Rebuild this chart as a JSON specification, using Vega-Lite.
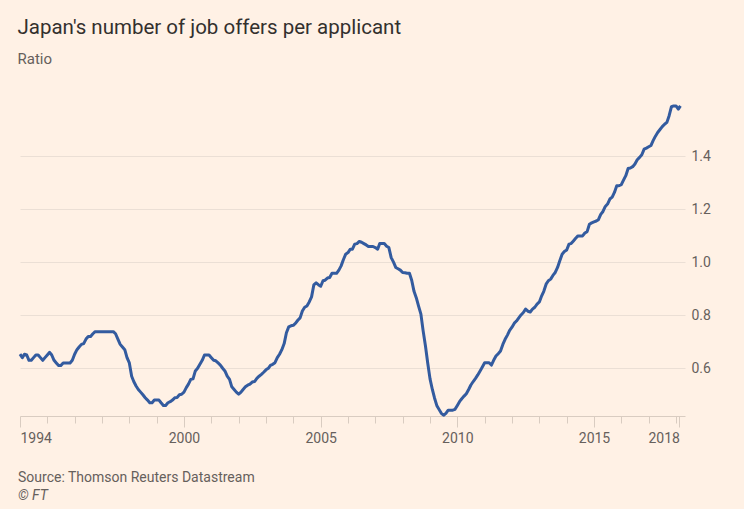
{
 "$schema": "https://vega.github.io/schema/vega-lite/v6.json",
 "background": "#FFF1E5",
 "padding": {"left": 17, "top": 17, "right": 40, "bottom": 15},
 "config": {"view": {"stroke": null}, "concat": {"spacing": 0}},
 "title": {"text": "Japan's number of job offers per applicant", "subtitle": "Ratio", "anchor": "start", "dx": -0.5, "font": "Roboto", "fontSize": 20.5, "fontWeight": "normal", "color": "#33302E", "subtitleFont": "Roboto", "subtitleFontSize": 15, "subtitleColor": "#66605C", "subtitlePadding": 14, "offset": 36},
 "data": {"values": [
  {"date":"1994-01-01","ratio":0.653},{"date":"1994-02-01","ratio":0.64},{"date":"1994-03-01","ratio":0.653},{"date":"1994-04-01","ratio":0.65},{"date":"1994-05-01","ratio":0.63},{"date":"1994-06-01","ratio":0.63},{"date":"1994-07-01","ratio":0.64},{"date":"1994-08-01","ratio":0.65},{"date":"1994-09-01","ratio":0.65},{"date":"1994-10-01","ratio":0.64},{"date":"1994-11-01","ratio":0.63},{"date":"1994-12-01","ratio":0.64},
  {"date":"1995-01-01","ratio":0.65},{"date":"1995-02-01","ratio":0.66},{"date":"1995-03-01","ratio":0.65},{"date":"1995-04-01","ratio":0.63},{"date":"1995-05-01","ratio":0.62},{"date":"1995-06-01","ratio":0.61},{"date":"1995-07-01","ratio":0.61},{"date":"1995-08-01","ratio":0.62},{"date":"1995-09-01","ratio":0.62},{"date":"1995-10-01","ratio":0.62},{"date":"1995-11-01","ratio":0.62},{"date":"1995-12-01","ratio":0.63},
  {"date":"1996-01-01","ratio":0.653},{"date":"1996-02-01","ratio":0.67},{"date":"1996-03-01","ratio":0.68},{"date":"1996-04-01","ratio":0.69},{"date":"1996-05-01","ratio":0.693},{"date":"1996-06-01","ratio":0.71},{"date":"1996-07-01","ratio":0.72},{"date":"1996-08-01","ratio":0.72},{"date":"1996-09-01","ratio":0.73},{"date":"1996-10-01","ratio":0.738},{"date":"1996-11-01","ratio":0.738},{"date":"1996-12-01","ratio":0.738},
  {"date":"1997-01-01","ratio":0.738},{"date":"1997-02-01","ratio":0.738},{"date":"1997-03-01","ratio":0.738},{"date":"1997-04-01","ratio":0.738},{"date":"1997-05-01","ratio":0.738},{"date":"1997-06-01","ratio":0.738},{"date":"1997-07-01","ratio":0.73},{"date":"1997-08-01","ratio":0.71},{"date":"1997-09-01","ratio":0.69},{"date":"1997-10-01","ratio":0.68},{"date":"1997-11-01","ratio":0.67},{"date":"1997-12-01","ratio":0.64},
  {"date":"1998-01-01","ratio":0.62},{"date":"1998-02-01","ratio":0.57},{"date":"1998-03-01","ratio":0.55},{"date":"1998-04-01","ratio":0.533},{"date":"1998-05-01","ratio":0.52},{"date":"1998-06-01","ratio":0.51},{"date":"1998-07-01","ratio":0.50},{"date":"1998-08-01","ratio":0.489},{"date":"1998-09-01","ratio":0.48},{"date":"1998-10-01","ratio":0.47},{"date":"1998-11-01","ratio":0.47},{"date":"1998-12-01","ratio":0.48},
  {"date":"1999-01-01","ratio":0.48},{"date":"1999-02-01","ratio":0.48},{"date":"1999-03-01","ratio":0.47},{"date":"1999-04-01","ratio":0.46},{"date":"1999-05-01","ratio":0.46},{"date":"1999-06-01","ratio":0.47},{"date":"1999-07-01","ratio":0.474},{"date":"1999-08-01","ratio":0.48},{"date":"1999-09-01","ratio":0.489},{"date":"1999-10-01","ratio":0.49},{"date":"1999-11-01","ratio":0.50},{"date":"1999-12-01","ratio":0.502},
  {"date":"2000-01-01","ratio":0.51},{"date":"2000-02-01","ratio":0.527},{"date":"2000-03-01","ratio":0.54},{"date":"2000-04-01","ratio":0.558},{"date":"2000-05-01","ratio":0.56},{"date":"2000-06-01","ratio":0.59},{"date":"2000-07-01","ratio":0.60},{"date":"2000-08-01","ratio":0.615},{"date":"2000-09-01","ratio":0.63},{"date":"2000-10-01","ratio":0.65},{"date":"2000-11-01","ratio":0.65},{"date":"2000-12-01","ratio":0.65},
  {"date":"2001-01-01","ratio":0.64},{"date":"2001-02-01","ratio":0.63},{"date":"2001-03-01","ratio":0.628},{"date":"2001-04-01","ratio":0.62},{"date":"2001-05-01","ratio":0.612},{"date":"2001-06-01","ratio":0.60},{"date":"2001-07-01","ratio":0.59},{"date":"2001-08-01","ratio":0.57},{"date":"2001-09-01","ratio":0.558},{"date":"2001-10-01","ratio":0.53},{"date":"2001-11-01","ratio":0.52},{"date":"2001-12-01","ratio":0.51},
  {"date":"2002-01-01","ratio":0.502},{"date":"2002-02-01","ratio":0.51},{"date":"2002-03-01","ratio":0.52},{"date":"2002-04-01","ratio":0.53},{"date":"2002-05-01","ratio":0.536},{"date":"2002-06-01","ratio":0.54},{"date":"2002-07-01","ratio":0.548},{"date":"2002-08-01","ratio":0.55},{"date":"2002-09-01","ratio":0.562},{"date":"2002-10-01","ratio":0.57},{"date":"2002-11-01","ratio":0.577},{"date":"2002-12-01","ratio":0.585},
  {"date":"2003-01-01","ratio":0.594},{"date":"2003-02-01","ratio":0.60},{"date":"2003-03-01","ratio":0.611},{"date":"2003-04-01","ratio":0.615},{"date":"2003-05-01","ratio":0.621},{"date":"2003-06-01","ratio":0.64},{"date":"2003-07-01","ratio":0.653},{"date":"2003-08-01","ratio":0.67},{"date":"2003-09-01","ratio":0.693},{"date":"2003-10-01","ratio":0.734},{"date":"2003-11-01","ratio":0.756},{"date":"2003-12-01","ratio":0.76},
  {"date":"2004-01-01","ratio":0.762},{"date":"2004-02-01","ratio":0.77},{"date":"2004-03-01","ratio":0.781},{"date":"2004-04-01","ratio":0.79},{"date":"2004-05-01","ratio":0.816},{"date":"2004-06-01","ratio":0.83},{"date":"2004-07-01","ratio":0.835},{"date":"2004-08-01","ratio":0.85},{"date":"2004-09-01","ratio":0.869},{"date":"2004-10-01","ratio":0.914},{"date":"2004-11-01","ratio":0.922},{"date":"2004-12-01","ratio":0.915},
  {"date":"2005-01-01","ratio":0.909},{"date":"2005-02-01","ratio":0.93},{"date":"2005-03-01","ratio":0.932},{"date":"2005-04-01","ratio":0.94},{"date":"2005-05-01","ratio":0.942},{"date":"2005-06-01","ratio":0.958},{"date":"2005-07-01","ratio":0.958},{"date":"2005-08-01","ratio":0.958},{"date":"2005-09-01","ratio":0.97},{"date":"2005-10-01","ratio":0.986},{"date":"2005-11-01","ratio":1.01},{"date":"2005-12-01","ratio":1.03},
  {"date":"2006-01-01","ratio":1.036},{"date":"2006-02-01","ratio":1.049},{"date":"2006-03-01","ratio":1.049},{"date":"2006-04-01","ratio":1.068},{"date":"2006-05-01","ratio":1.07},{"date":"2006-06-01","ratio":1.078},{"date":"2006-07-01","ratio":1.075},{"date":"2006-08-01","ratio":1.07},{"date":"2006-09-01","ratio":1.065},{"date":"2006-10-01","ratio":1.059},{"date":"2006-11-01","ratio":1.059},{"date":"2006-12-01","ratio":1.059},
  {"date":"2007-01-01","ratio":1.055},{"date":"2007-02-01","ratio":1.049},{"date":"2007-03-01","ratio":1.07},{"date":"2007-04-01","ratio":1.07},{"date":"2007-05-01","ratio":1.07},{"date":"2007-06-01","ratio":1.06},{"date":"2007-07-01","ratio":1.055},{"date":"2007-08-01","ratio":1.017},{"date":"2007-09-01","ratio":1.0},{"date":"2007-10-01","ratio":0.98},{"date":"2007-11-01","ratio":0.975},{"date":"2007-12-01","ratio":0.97},
  {"date":"2008-01-01","ratio":0.961},{"date":"2008-02-01","ratio":0.96},{"date":"2008-03-01","ratio":0.958},{"date":"2008-04-01","ratio":0.958},{"date":"2008-05-01","ratio":0.932},{"date":"2008-06-01","ratio":0.89},{"date":"2008-07-01","ratio":0.866},{"date":"2008-08-01","ratio":0.834},{"date":"2008-09-01","ratio":0.804},{"date":"2008-10-01","ratio":0.741},{"date":"2008-11-01","ratio":0.684},{"date":"2008-12-01","ratio":0.62},
  {"date":"2009-01-01","ratio":0.56},{"date":"2009-02-01","ratio":0.52},{"date":"2009-03-01","ratio":0.489},{"date":"2009-04-01","ratio":0.46},{"date":"2009-05-01","ratio":0.445},{"date":"2009-06-01","ratio":0.43},{"date":"2009-07-01","ratio":0.423},{"date":"2009-08-01","ratio":0.43},{"date":"2009-09-01","ratio":0.442},{"date":"2009-10-01","ratio":0.442},{"date":"2009-11-01","ratio":0.442},{"date":"2009-12-01","ratio":0.445},
  {"date":"2010-01-01","ratio":0.46},{"date":"2010-02-01","ratio":0.475},{"date":"2010-03-01","ratio":0.485},{"date":"2010-04-01","ratio":0.495},{"date":"2010-05-01","ratio":0.504},{"date":"2010-06-01","ratio":0.52},{"date":"2010-07-01","ratio":0.537},{"date":"2010-08-01","ratio":0.55},{"date":"2010-09-01","ratio":0.562},{"date":"2010-10-01","ratio":0.575},{"date":"2010-11-01","ratio":0.59},{"date":"2010-12-01","ratio":0.605},
  {"date":"2011-01-01","ratio":0.621},{"date":"2011-02-01","ratio":0.621},{"date":"2011-03-01","ratio":0.621},{"date":"2011-04-01","ratio":0.612},{"date":"2011-05-01","ratio":0.63},{"date":"2011-06-01","ratio":0.646},{"date":"2011-07-01","ratio":0.655},{"date":"2011-08-01","ratio":0.665},{"date":"2011-09-01","ratio":0.69},{"date":"2011-10-01","ratio":0.709},{"date":"2011-11-01","ratio":0.725},{"date":"2011-12-01","ratio":0.743},
  {"date":"2012-01-01","ratio":0.755},{"date":"2012-02-01","ratio":0.77},{"date":"2012-03-01","ratio":0.778},{"date":"2012-04-01","ratio":0.79},{"date":"2012-05-01","ratio":0.801},{"date":"2012-06-01","ratio":0.81},{"date":"2012-07-01","ratio":0.823},{"date":"2012-08-01","ratio":0.815},{"date":"2012-09-01","ratio":0.812},{"date":"2012-10-01","ratio":0.823},{"date":"2012-11-01","ratio":0.83},{"date":"2012-12-01","ratio":0.842},
  {"date":"2013-01-01","ratio":0.85},{"date":"2013-02-01","ratio":0.873},{"date":"2013-03-01","ratio":0.89},{"date":"2013-04-01","ratio":0.917},{"date":"2013-05-01","ratio":0.93},{"date":"2013-06-01","ratio":0.936},{"date":"2013-07-01","ratio":0.95},{"date":"2013-08-01","ratio":0.961},{"date":"2013-09-01","ratio":0.98},{"date":"2013-10-01","ratio":1.005},{"date":"2013-11-01","ratio":1.03},{"date":"2013-12-01","ratio":1.04},
  {"date":"2014-01-01","ratio":1.046},{"date":"2014-02-01","ratio":1.068},{"date":"2014-03-01","ratio":1.07},{"date":"2014-04-01","ratio":1.08},{"date":"2014-05-01","ratio":1.09},{"date":"2014-06-01","ratio":1.099},{"date":"2014-07-01","ratio":1.099},{"date":"2014-08-01","ratio":1.099},{"date":"2014-09-01","ratio":1.11},{"date":"2014-10-01","ratio":1.115},{"date":"2014-11-01","ratio":1.143},{"date":"2014-12-01","ratio":1.148},
  {"date":"2015-01-01","ratio":1.152},{"date":"2015-02-01","ratio":1.155},{"date":"2015-03-01","ratio":1.16},{"date":"2015-04-01","ratio":1.18},{"date":"2015-05-01","ratio":1.191},{"date":"2015-06-01","ratio":1.21},{"date":"2015-07-01","ratio":1.219},{"date":"2015-08-01","ratio":1.238},{"date":"2015-09-01","ratio":1.245},{"date":"2015-10-01","ratio":1.263},{"date":"2015-11-01","ratio":1.288},{"date":"2015-12-01","ratio":1.288},
  {"date":"2016-01-01","ratio":1.292},{"date":"2016-02-01","ratio":1.31},{"date":"2016-03-01","ratio":1.326},{"date":"2016-04-01","ratio":1.353},{"date":"2016-05-01","ratio":1.355},{"date":"2016-06-01","ratio":1.36},{"date":"2016-07-01","ratio":1.37},{"date":"2016-08-01","ratio":1.386},{"date":"2016-09-01","ratio":1.395},{"date":"2016-10-01","ratio":1.405},{"date":"2016-11-01","ratio":1.426},{"date":"2016-12-01","ratio":1.43},
  {"date":"2017-01-01","ratio":1.435},{"date":"2017-02-01","ratio":1.44},{"date":"2017-03-01","ratio":1.458},{"date":"2017-04-01","ratio":1.475},{"date":"2017-05-01","ratio":1.489},{"date":"2017-06-01","ratio":1.50},{"date":"2017-07-01","ratio":1.511},{"date":"2017-08-01","ratio":1.52},{"date":"2017-09-01","ratio":1.527},{"date":"2017-10-01","ratio":1.552},{"date":"2017-11-01","ratio":1.586},{"date":"2017-12-01","ratio":1.589},
  {"date":"2018-01-01","ratio":1.589},{"date":"2018-02-01","ratio":1.577},{"date":"2018-03-01","ratio":1.589}
 ]},
 "vconcat": [{
  "width": 665,
  "height": 313,
  "title": {"text": "Source: Thomson Reuters Datastream", "subtitle": "© FT", "orient": "bottom", "anchor": "start", "dx": -0.5, "offset": 26, "font": "Roboto", "fontSize": 14, "fontWeight": "normal", "color": "#66605C", "subtitleFont": "Roboto", "subtitleFontSize": 14, "subtitleFontStyle": "italic", "subtitleColor": "#66605C", "subtitlePadding": 4},
  "mark": {"type": "line", "color": "#335B9F", "strokeWidth": 3, "strokeJoin": "round"},
  "encoding": {
   "x": {"field": "date", "type": "temporal",
    "scale": {"domain": [{"year": 1994, "month": 1, "date": 1, "utc": true}, {"year": 2018, "month": 5, "date": 1, "utc": true}]},
    "axis": {"title": null, "grid": false,
     "values": [{"year":1994,"month":1,"date":1,"utc":true},{"year":1995,"month":1,"date":1,"utc":true},{"year":1996,"month":1,"date":1,"utc":true},{"year":1997,"month":1,"date":1,"utc":true},{"year":1998,"month":1,"date":1,"utc":true},{"year":1999,"month":1,"date":1,"utc":true},{"year":2000,"month":1,"date":1,"utc":true},{"year":2001,"month":1,"date":1,"utc":true},{"year":2002,"month":1,"date":1,"utc":true},{"year":2003,"month":1,"date":1,"utc":true},{"year":2004,"month":1,"date":1,"utc":true},{"year":2005,"month":1,"date":1,"utc":true},{"year":2006,"month":1,"date":1,"utc":true},{"year":2007,"month":1,"date":1,"utc":true},{"year":2008,"month":1,"date":1,"utc":true},{"year":2009,"month":1,"date":1,"utc":true},{"year":2010,"month":1,"date":1,"utc":true},{"year":2011,"month":1,"date":1,"utc":true},{"year":2012,"month":1,"date":1,"utc":true},{"year":2013,"month":1,"date":1,"utc":true},{"year":2014,"month":1,"date":1,"utc":true},{"year":2015,"month":1,"date":1,"utc":true},{"year":2016,"month":1,"date":1,"utc":true},{"year":2017,"month":1,"date":1,"utc":true},{"year":2018,"month":1,"date":1,"utc":true},{"year":2018,"month":2,"date":15,"utc":true}],
     "labelExpr": "((indexof([1994,2000,2005,2010,2015], utcyear(datum.value)) >= 0 && utcmonth(datum.value) == 0) || utcmonth(datum.value) == 1) ? utcFormat(datum.value, '%Y') : ''",
     "tickSize": {"condition": {"test": "(indexof([1994,2000,2005,2010,2015], utcyear(datum.value)) >= 0 && utcmonth(datum.value) == 0) || utcmonth(datum.value) == 1", "value": 11}, "value": 7},
     "labelFlush": 10, "labelOverlap": false, "labelPadding": 4,
     "labelFont": "Roboto", "labelFontSize": 14, "labelColor": "#66605C",
     "domainColor": "#D9CCC1", "tickColor": "#D9CCC1"}},
   "y": {"field": "ratio", "type": "quantitative",
    "scale": {"domain": [0.42, 1.6], "nice": false, "zero": false},
    "axis": {"title": null, "orient": "right", "values": [0.6, 0.8, 1.0, 1.2, 1.4], "format": ".1f", "ticks": false, "domain": false, "grid": true, "gridColor": "#EBDFD5", "labelPadding": 6, "labelFont": "Roboto", "labelFontSize": 14, "labelColor": "#66605C"}}
  }
 }]
}
